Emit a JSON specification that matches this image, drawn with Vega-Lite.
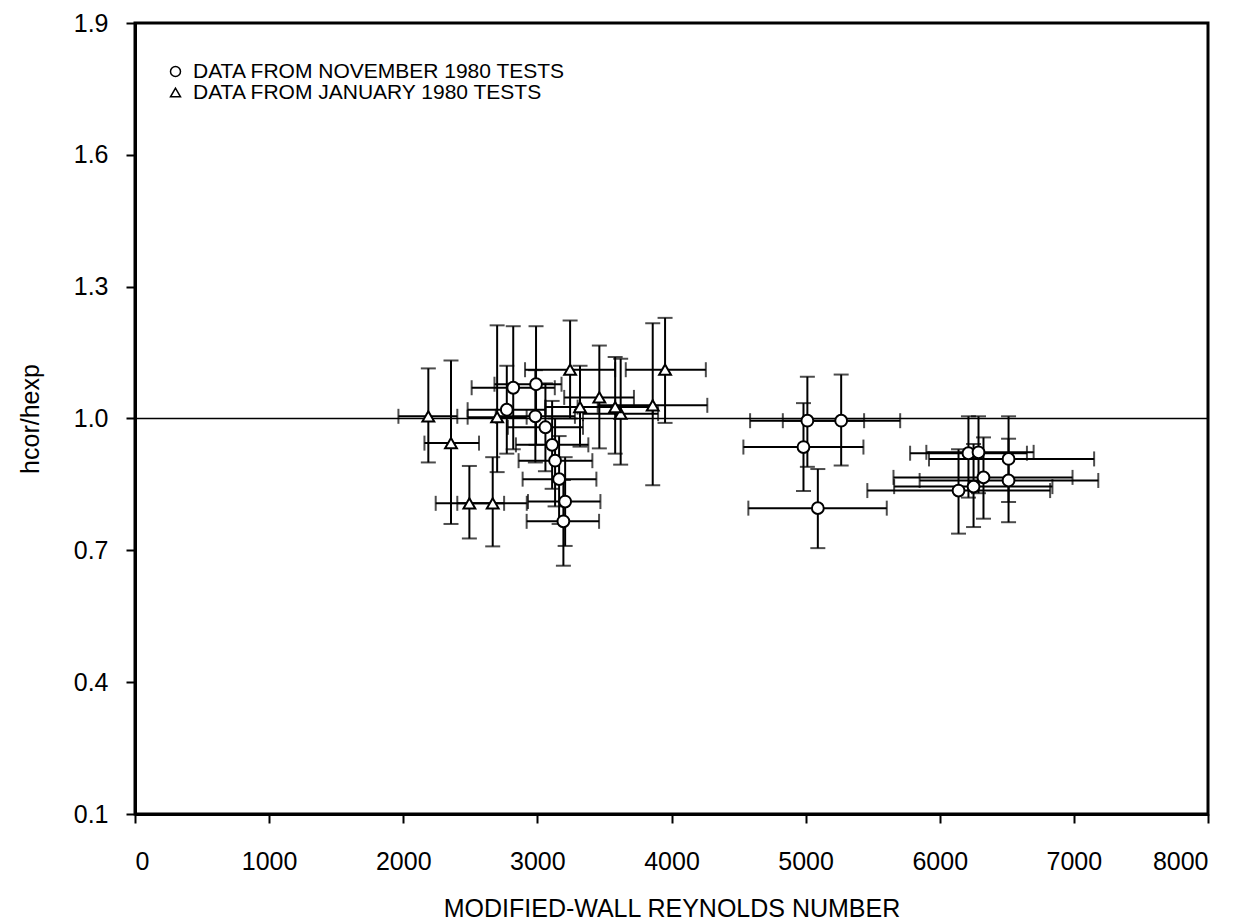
{
  "$schema": "https://vega.github.io/schema/vega-lite/v6.json",
  "width": 1073,
  "height": 791,
  "autosize": "none",
  "padding": {"left": 135, "top": 23, "right": 30, "bottom": 110},
  "background": "white",
  "config": {
    "font": "Liberation Sans",
    "view": {"stroke": "black", "strokeWidth": 3},
    "axis": {"grid": false, "domainColor": "black", "domainWidth": 3, "tickColor": "black", "tickWidth": 2, "tickSize": 9, "labelColor": "black", "titleColor": "black", "labelFontSize": 25, "titleFontSize": 25, "titleFontWeight": "normal"},
    "legend": {"labelFontSize": 21, "labelColor": "black"}
  },
  "datasets": {
    "pts": [
      {"s": "DATA FROM NOVEMBER 1980 TESTS", "x": 2820, "y": 1.070, "xlo": 2510, "xhi": 3130, "ylo": 0.93, "yhi": 1.21},
      {"s": "DATA FROM NOVEMBER 1980 TESTS", "x": 2990, "y": 1.078, "xlo": 2680, "xhi": 3180, "ylo": 0.94, "yhi": 1.21},
      {"s": "DATA FROM NOVEMBER 1980 TESTS", "x": 2772, "y": 1.020, "xlo": 2480, "xhi": 3060, "ylo": 0.92, "yhi": 1.12},
      {"s": "DATA FROM NOVEMBER 1980 TESTS", "x": 2985, "y": 1.005, "xlo": 2690, "xhi": 3280, "ylo": 0.90, "yhi": 1.11},
      {"s": "DATA FROM NOVEMBER 1980 TESTS", "x": 3060, "y": 0.980, "xlo": 2780, "xhi": 3340, "ylo": 0.88, "yhi": 1.08},
      {"s": "DATA FROM NOVEMBER 1980 TESTS", "x": 3110, "y": 0.940, "xlo": 2840, "xhi": 3380, "ylo": 0.84, "yhi": 1.04},
      {"s": "DATA FROM NOVEMBER 1980 TESTS", "x": 3132, "y": 0.904, "xlo": 2860, "xhi": 3410, "ylo": 0.80, "yhi": 1.00},
      {"s": "DATA FROM NOVEMBER 1980 TESTS", "x": 3162, "y": 0.862, "xlo": 2890, "xhi": 3440, "ylo": 0.76, "yhi": 0.96},
      {"s": "DATA FROM NOVEMBER 1980 TESTS", "x": 3207, "y": 0.811, "xlo": 2930, "xhi": 3470, "ylo": 0.71, "yhi": 0.912},
      {"s": "DATA FROM NOVEMBER 1980 TESTS", "x": 3194, "y": 0.766, "xlo": 2920, "xhi": 3460, "ylo": 0.665, "yhi": 0.86},
      {"s": "DATA FROM NOVEMBER 1980 TESTS", "x": 5013, "y": 0.995, "xlo": 4586, "xhi": 5436, "ylo": 0.89, "yhi": 1.095},
      {"s": "DATA FROM NOVEMBER 1980 TESTS", "x": 5265, "y": 0.995, "xlo": 4830, "xhi": 5705, "ylo": 0.893, "yhi": 1.10},
      {"s": "DATA FROM NOVEMBER 1980 TESTS", "x": 4984, "y": 0.935, "xlo": 4536, "xhi": 5431, "ylo": 0.835, "yhi": 1.035},
      {"s": "DATA FROM NOVEMBER 1980 TESTS", "x": 5091, "y": 0.796, "xlo": 4573, "xhi": 5605, "ylo": 0.705, "yhi": 0.885},
      {"s": "DATA FROM NOVEMBER 1980 TESTS", "x": 6140, "y": 0.836, "xlo": 5460, "xhi": 6823, "ylo": 0.738, "yhi": 0.93},
      {"s": "DATA FROM NOVEMBER 1980 TESTS", "x": 6214, "y": 0.921, "xlo": 5779, "xhi": 6650, "ylo": 0.82, "yhi": 1.005},
      {"s": "DATA FROM NOVEMBER 1980 TESTS", "x": 6289, "y": 0.923, "xlo": 5900, "xhi": 6700, "ylo": 0.83, "yhi": 1.005},
      {"s": "DATA FROM NOVEMBER 1980 TESTS", "x": 6513, "y": 0.908, "xlo": 5920, "xhi": 7151, "ylo": 0.81, "yhi": 1.005},
      {"s": "DATA FROM NOVEMBER 1980 TESTS", "x": 6513, "y": 0.859, "xlo": 5850, "xhi": 7182, "ylo": 0.764, "yhi": 0.954},
      {"s": "DATA FROM NOVEMBER 1980 TESTS", "x": 6326, "y": 0.866, "xlo": 5655, "xhi": 6990, "ylo": 0.772, "yhi": 0.957},
      {"s": "DATA FROM NOVEMBER 1980 TESTS", "x": 6252, "y": 0.845, "xlo": 5660, "xhi": 6840, "ylo": 0.753, "yhi": 0.942},
      {"s": "DATA FROM JANUARY 1980 TESTS", "x": 2187, "y": 1.005, "xlo": 1964, "xhi": 2403, "ylo": 0.90, "yhi": 1.114},
      {"s": "DATA FROM JANUARY 1980 TESTS", "x": 2356, "y": 0.944, "xlo": 2158, "xhi": 2565, "ylo": 0.76, "yhi": 1.132},
      {"s": "DATA FROM JANUARY 1980 TESTS", "x": 2493, "y": 0.807, "xlo": 2242, "xhi": 2752, "ylo": 0.727, "yhi": 0.892},
      {"s": "DATA FROM JANUARY 1980 TESTS", "x": 2667, "y": 0.807, "xlo": 2403, "xhi": 2921, "ylo": 0.709, "yhi": 0.912},
      {"s": "DATA FROM JANUARY 1980 TESTS", "x": 3244, "y": 1.111, "xlo": 2908, "xhi": 3580, "ylo": 1.00, "yhi": 1.223},
      {"s": "DATA FROM JANUARY 1980 TESTS", "x": 3952, "y": 1.111, "xlo": 3659, "xhi": 4256, "ylo": 0.99, "yhi": 1.229},
      {"s": "DATA FROM JANUARY 1980 TESTS", "x": 3462, "y": 1.048, "xlo": 3200, "xhi": 3720, "ylo": 0.932, "yhi": 1.166},
      {"s": "DATA FROM JANUARY 1980 TESTS", "x": 3318, "y": 1.026, "xlo": 3060, "xhi": 3580, "ylo": 0.936, "yhi": 1.12},
      {"s": "DATA FROM JANUARY 1980 TESTS", "x": 3860, "y": 1.030, "xlo": 3450, "xhi": 4267, "ylo": 0.848, "yhi": 1.217},
      {"s": "DATA FROM JANUARY 1980 TESTS", "x": 3621, "y": 1.011, "xlo": 3340, "xhi": 3900, "ylo": 0.895, "yhi": 1.136},
      {"s": "DATA FROM JANUARY 1980 TESTS", "x": 3580, "y": 1.026, "xlo": 3300, "xhi": 3860, "ylo": 0.92, "yhi": 1.14},
      {"s": "DATA FROM JANUARY 1980 TESTS", "x": 2700, "y": 1.003, "xlo": 2480, "xhi": 2920, "ylo": 0.878, "yhi": 1.212}
    ],
    "ref": [{"r": 1.0}]
  },
  "layer": [
    {
      "data": {"name": "pts"},
      "mark": {"type": "rule", "color": "black", "strokeWidth": 2},
      "encoding": {
        "x": {"field": "x", "type": "quantitative", "scale": {"domain": [0, 8000], "nice": false},
          "axis": {"values": [0, 1000, 2000, 3000, 4000, 5000, 6000, 7000, 8000], "format": "d", "title": "MODIFIED-WALL REYNOLDS NUMBER", "labelPadding": 26, "titlePadding": 22}},
        "y": {"field": "ylo", "type": "quantitative", "scale": {"domain": [0.1, 1.9], "nice": false, "zero": false},
          "axis": {"values": [0.1, 0.4, 0.7, 1.0, 1.3, 1.6, 1.9], "format": ".1f", "title": "hcor/hexp", "labelPadding": 18, "titlePadding": 30}},
        "y2": {"field": "yhi"}
      }
    },
    {
      "data": {"name": "pts"},
      "mark": {"type": "rule", "color": "black", "strokeWidth": 2},
      "encoding": {
        "x": {"field": "xlo", "type": "quantitative"},
        "x2": {"field": "xhi"},
        "y": {"field": "y", "type": "quantitative"}
      }
    },
    {
      "data": {"name": "ref"},
      "mark": {"type": "rule", "color": "black", "strokeWidth": 1.5},
      "encoding": {"y": {"field": "r", "type": "quantitative"}}
    },
    {
      "data": {"name": "pts"},
      "mark": {"type": "tick", "orient": "horizontal", "color": "black", "size": 15, "thickness": 2},
      "encoding": {"x": {"field": "x", "type": "quantitative"}, "y": {"field": "ylo", "type": "quantitative"}}
    },
    {
      "data": {"name": "pts"},
      "mark": {"type": "tick", "orient": "horizontal", "color": "black", "size": 15, "thickness": 2},
      "encoding": {"x": {"field": "x", "type": "quantitative"}, "y": {"field": "yhi", "type": "quantitative"}}
    },
    {
      "data": {"name": "pts"},
      "mark": {"type": "tick", "orient": "vertical", "color": "black", "size": 15, "thickness": 2},
      "encoding": {"x": {"field": "xlo", "type": "quantitative"}, "y": {"field": "y", "type": "quantitative"}}
    },
    {
      "data": {"name": "pts"},
      "mark": {"type": "tick", "orient": "vertical", "color": "black", "size": 15, "thickness": 2},
      "encoding": {"x": {"field": "xhi", "type": "quantitative"}, "y": {"field": "y", "type": "quantitative"}}
    },
    {
      "data": {"name": "pts"},
      "mark": {"type": "point", "filled": true, "fill": "white", "stroke": "black", "strokeWidth": 2, "size": 140, "opacity": 1},
      "encoding": {
        "x": {"field": "x", "type": "quantitative"},
        "y": {"field": "y", "type": "quantitative"},
        "shape": {"field": "s", "type": "nominal",
          "scale": {"domain": ["DATA FROM NOVEMBER 1980 TESTS", "DATA FROM JANUARY 1980 TESTS"], "range": ["circle", "triangle-up"]},
          "legend": {"orient": "none", "legendX": 30, "legendY": 38, "title": null, "symbolSize": 100, "labelOffset": 7, "rowPadding": -3, "labelFontSize": 21, "labelLimit": 0,
            "encode": {"symbols": {"update": {"fill": {"value": "white"}, "stroke": {"value": "black"}, "strokeWidth": {"value": 1.5}, "opacity": {"value": 1}}}}}}
      }
    }
  ]
}
